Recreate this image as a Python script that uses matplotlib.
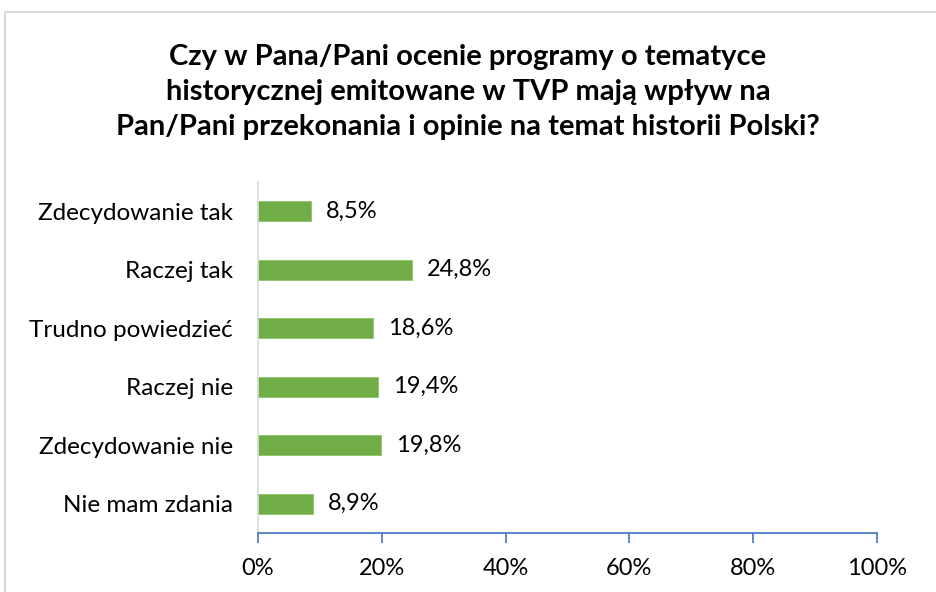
import matplotlib
matplotlib.use('Agg')
import matplotlib.pyplot as plt
from matplotlib.patches import Rectangle
from matplotlib.ticker import FuncFormatter

# dane ankiety
categories = ['Zdecydowanie tak', 'Raczej tak', 'Trudno powiedzieć',
              'Raczej nie', 'Zdecydowanie nie', 'Nie mam zdania']
values = [8.5, 24.8, 18.6, 19.4, 19.8, 8.9]
title = ('Czy w Pana/Pani ocenie programy o tematyce\n'
         'historycznej emitowane w TVP mają wpływ na\n'
         'Pan/Pani przekonania i opinie na temat historii Polski?')

plt.rcParams['font.family'] = ['Lato', 'DejaVu Sans']

fig = plt.figure(figsize=(9.36, 5.92), dpi=100)
ax = fig.add_axes([258 / 936, 1 - 533 / 592, (877 - 258) / 936, (533 - 182) / 592])

y = list(range(len(categories)))
ax.barh(y, values, height=0.35, color='#70AD47', edgecolor='#8cc46a', linewidth=0.6)

for yi, v in zip(y, values):
    ax.annotate(f'{v:.1f}%'.replace('.', ','), xy=(v, yi), xytext=(11, 0),
                textcoords='offset points', va='center', ha='left', fontsize=17)

ax.set_xlim(0, 100)
ax.set_ylim(len(categories) - 0.5, -0.5)
ax.set_yticks(y)
ax.set_yticklabels(categories, fontsize=17.5)
ax.set_xticks(range(0, 101, 20))
ax.xaxis.set_major_formatter(FuncFormatter(lambda x, p: f'{x:.0f}%'))
ax.tick_params(axis='x', labelsize=17, direction='out', length=7, width=1.2,
               color='#4472C4', pad=11)
ax.tick_params(axis='y', length=0, pad=18)

for s in ['top', 'right']:
    ax.spines[s].set_visible(False)
ax.spines['bottom'].set_color('#4472C4')
ax.spines['bottom'].set_linewidth(1.2)
ax.spines['left'].set_color('#d9d9d9')
ax.spines['left'].set_linewidth(1.2)

fig.text(0.5, 1 - 92 / 592, title, ha='center', va='center', fontsize=21,
         fontweight='bold', linespacing=1.45)

# ramka wykresu
fig.patches.append(Rectangle((5 / 936, -0.1), 2, 1.1 - 12 / 592, transform=fig.transFigure,
                             fill=False, edgecolor='#d9d9d9', linewidth=1.5))

fig.savefig('out.png', dpi=100)
